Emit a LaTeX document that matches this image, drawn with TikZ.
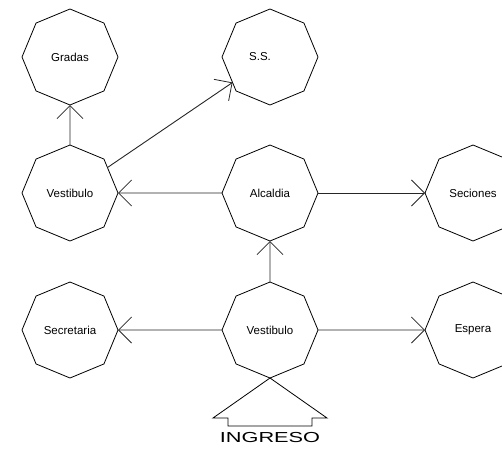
\documentclass[tikz,border=0pt]{standalone}
\usepackage{fontspec}
\setmainfont{Liberation Sans}
\usetikzlibrary{shapes.geometric,arrows.meta}
\tikzset{
  octa/.style={draw=black, line width=0.8pt, regular polygon, regular polygon sides=8,
    shape border rotate=22.5, minimum size=96pt, inner sep=1pt, outer sep=0pt,
    font=\fontsize{11.5}{13}\selectfont},
  conn/.style={draw=black!85, line width=0.9pt, -{Straight Barb[length=13pt,width=26pt,line width=0.8pt]}},
  outline/.style={draw=black, line width=0.8pt}
}
\begin{document}
\begin{tikzpicture}[x=1pt,y=-1pt]
\useasboundingbox (0,0) rectangle (502,450);
\clip (0,0) rectangle (502,450);
\node[octa] (gr) at (70,57) {Gradas};
\node[octa] (ss) at (270,57) {};
\node (sstext) at (260,57) {\fontsize{11.5}{13}\selectfont S.S.};
\node[octa] (vu) at (70,193) {Vestibulo};
\node[octa] (al) at (270,193) {Alcaldia};
\node[octa] (se) at (473,193) {Seciones};
\node[octa] (sec) at (70,330) {Secretaria};
\node[octa] (vl) at (270,330) {Vestibulo};
\node[octa] (es) at (473,330) {Espera};
\draw[conn] (vu) -- (gr);
\draw[conn] (vu) -- (ss);
\draw[conn] (al) -- (vu);
\draw[conn] (al) -- (se);
\draw[conn] (vl) -- (al);
\draw[conn] (vl) -- (sec);
\draw[conn] (vl) -- (es);
\coordinate (iL) at (213,418);
\coordinate (iLs) at (228,418);
\coordinate (iLb) at (228,426);
\coordinate (iRb) at (312,426);
\coordinate (iRs) at (312,418);
\coordinate (iR) at (327,418);
\draw[outline] (iL) -- (vl.south) -- (iR) -- (iRs) -- (iRb) -- (iLb) -- (iLs) -- cycle;
\node (ingreso) at (270,437.5) {\fontsize{14.5}{16}\selectfont\scalebox{1.5}[1]{INGRESO}};
\end{tikzpicture}
\end{document}
